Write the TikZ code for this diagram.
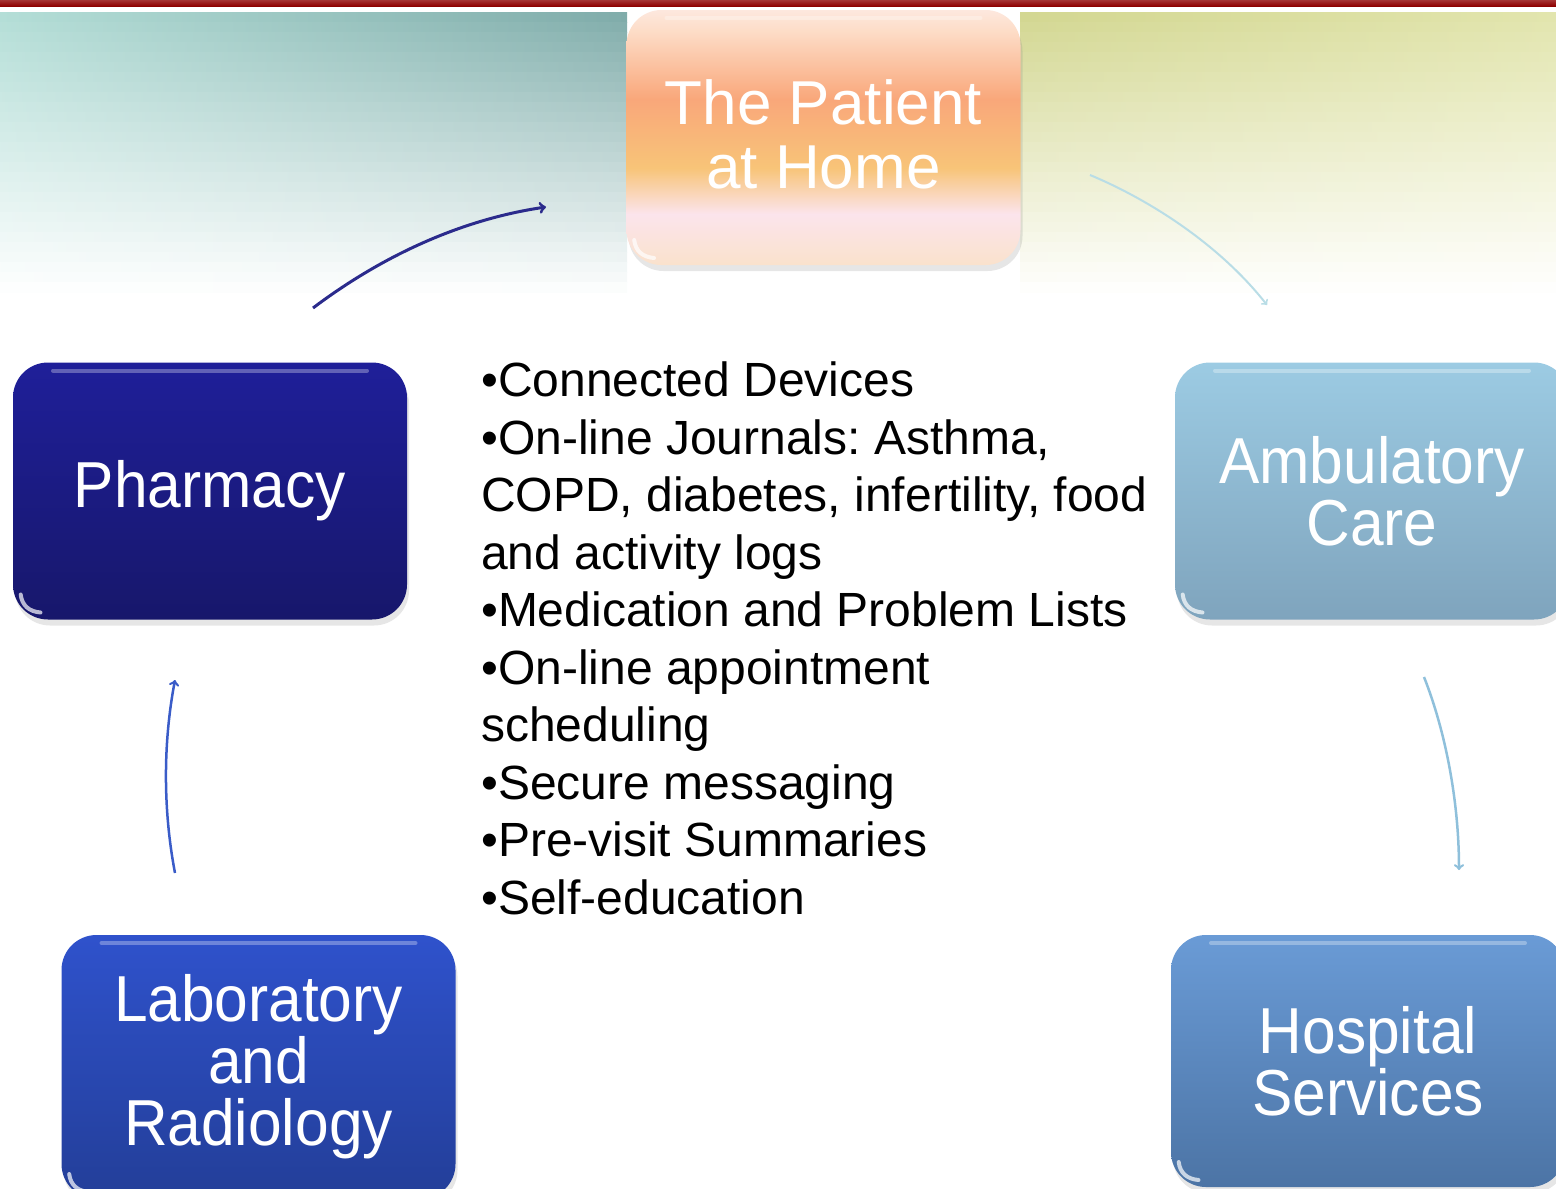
\documentclass[tikz,border=0pt]{standalone}
\usepackage{fontspec}
\setmainfont{Liberation Sans}
\newfontfamily\boxfont[FakeStretch=0.93]{Liberation Sans}
\usetikzlibrary{shadows}
\frenchspacing

\definecolor{barred}{HTML}{8E0000}
\definecolor{tealbg}{HTML}{B4DED7}
\definecolor{tealdark}{HTML}{80ACAA}
\definecolor{olivebg}{HTML}{D3D792}
\definecolor{olivelight}{HTML}{E2E5AE}
\definecolor{navyarrow}{HTML}{2B2B8C}
\definecolor{palearrow}{HTML}{B9DDE6}
\definecolor{skyarrow}{HTML}{8FC0DB}
\definecolor{royalarrow}{HTML}{3A5CC8}
\definecolor{homecream}{HTML}{FAE2CC}
\definecolor{homepink}{HTML}{FBE4EC}
\definecolor{homeyellow}{HTML}{F8C478}
\definecolor{homeorange}{HTML}{F9A77A}
\definecolor{homepeach}{HTML}{FDDDC8}
\definecolor{homelight}{HTML}{FDE8DE}

\pgfdeclareverticalshading{homeshade}{100bp}{%
  color(0bp)=(homecream);
  color(25bp)=(homecream);
  color(35bp)=(homepink);
  color(44bp)=(homeyellow);
  color(57.5bp)=(homeorange);
  color(71bp)=(homepeach);
  color(75bp)=(homelight);
  color(100bp)=(homelight)}

\begin{document}
\begin{tikzpicture}[
    x = 1pt, y = -1pt,
    carebox/.style = {rounded corners = 35pt,
      minimum width = 394pt,
      minimum height = 257pt,
      text = white,
      align = center,
      font = \boxfont\fontsize{65}{62}\selectfont,
      drop shadow = {opacity = 0.2, shadow xshift = 2pt, shadow yshift = -6pt},
      path picture = {
        \draw [white, opacity = 0.3, line width = 4pt, line cap = round]
        ([xshift = 40pt, yshift = -8pt] path picture bounding box.north west)
        -- ([xshift = -40pt, yshift = -8pt] path picture bounding box.north east);
        \draw [white, opacity = 0.7, line width = 4pt, line cap = round]
        ([xshift = 7.7pt, yshift = 25pt] path picture bounding box.south west)
        .. controls ([xshift = 9pt, yshift = 14pt] path picture bounding box.south west)
        and ([xshift = 16pt, yshift = 8pt] path picture bounding box.south west)
        .. ([xshift = 27.5pt, yshift = 7pt] path picture bounding box.south west);
      }},
    home/.style = {shading = homeshade, text depth = 7pt,
      font = \fontsize{62}{64}\selectfont},
    pharmacy/.style = {top color = {rgb,255:red,31;green,31;blue,153},
      bottom color = {rgb,255:red,23;green,23;blue,107}},
    ambulatory/.style = {top color = {rgb,255:red,156;green,203;blue,227},
      bottom color = {rgb,255:red,127;green,164;blue,189}},
    hospital/.style = {top color = {rgb,255:red,106;green,155;blue,214},
      bottom color = {rgb,255:red,76;green,116;blue,165}},
    lab/.style = {top color = {rgb,255:red,47;green,82;blue,204},
      bottom color = {rgb,255:red,35;green,62;blue,152}},
    flow/.style = {-to, line width = 2.5pt},
    ]

    \useasboundingbox (0, 0) rectangle (1556, 1189);
    \clip (0, 0) rectangle (1556, 1189);

    % background, faded to white in strips
    \foreach \k in {0, ..., 27} {
      \pgfmathtruncatemacro{\tint}{100 - 100 * \k / 28}
      \fill [left color = tealbg!\tint!white, right color = tealdark!\tint!white]
      (0, 12 + 10 * \k) rectangle (627, 22.5 + 10 * \k);
      \fill [left color = olivebg!\tint!white, right color = olivelight!\tint!white]
      (1020, 12 + 10 * \k) rectangle (1556, 22.5 + 10 * \k);
    }
    \fill [top color = barred!80, bottom color = barred] (0, 0) rectangle (1556, 6);

    % boxes
    \node at (823.5, 137.5)
    [carebox, home, minimum height = 255pt, name = home] {The Patient\\at Home};
    \node at (210, 491)
    [carebox, pharmacy, name = pharmacy] {Pharmacy};
    \node at (1372, 491)
    [carebox, ambulatory, name = ambulatory] {Ambulatory\\Care};
    \node at (1368, 1061)
    [carebox, hospital, minimum height = 252pt, name = hospital] {Hospital\\Services};
    \node at (258.5, 1067)
    [carebox, lab, minimum height = 264pt, name = lab] {Laboratory\\and\\Radiology};

    % list in the middle
    \node at (481, 362)
    [anchor = north west, inner sep = 0pt, align = left,
      font = \fontsize{48}{57.5}\selectfont, name = items]
    {•Connected Devices\\
      •On-line Journals: Asthma,\\
      COPD, diabetes, infertility, food\\
      and activity logs\\
      •Medication and Problem Lists\\
      •On-line appointment\\
      scheduling\\
      •Secure messaging\\
      •Pre-visit Summaries\\
      •Self-education};

    % arrow ends
    \coordinate (pharmacy out) at (313, 308);
    \coordinate (home in) at (546, 207);
    \coordinate (home out) at (1090, 175);
    \coordinate (ambulatory in) at (1267, 305);
    \coordinate (ambulatory out) at (1424, 677);
    \coordinate (hospital in) at (1459, 870);
    \coordinate (lab out) at (175, 873);
    \coordinate (pharmacy in) at (175, 680);

    \draw [flow, navyarrow, line width = 3pt] (pharmacy out)
    .. controls (390, 250) and (470, 218) .. (home in);
    \draw [flow, palearrow, line width = 2pt] (home out)
    .. controls (1150, 200) and (1220, 245) .. (ambulatory in);
    \draw [flow, skyarrow] (ambulatory out)
    .. controls (1445, 730) and (1459, 800) .. (hospital in);
    \draw [flow, royalarrow] (lab out)
    .. controls (163, 810) and (163, 743) .. (pharmacy in);
  \end{tikzpicture}
\end{document}
